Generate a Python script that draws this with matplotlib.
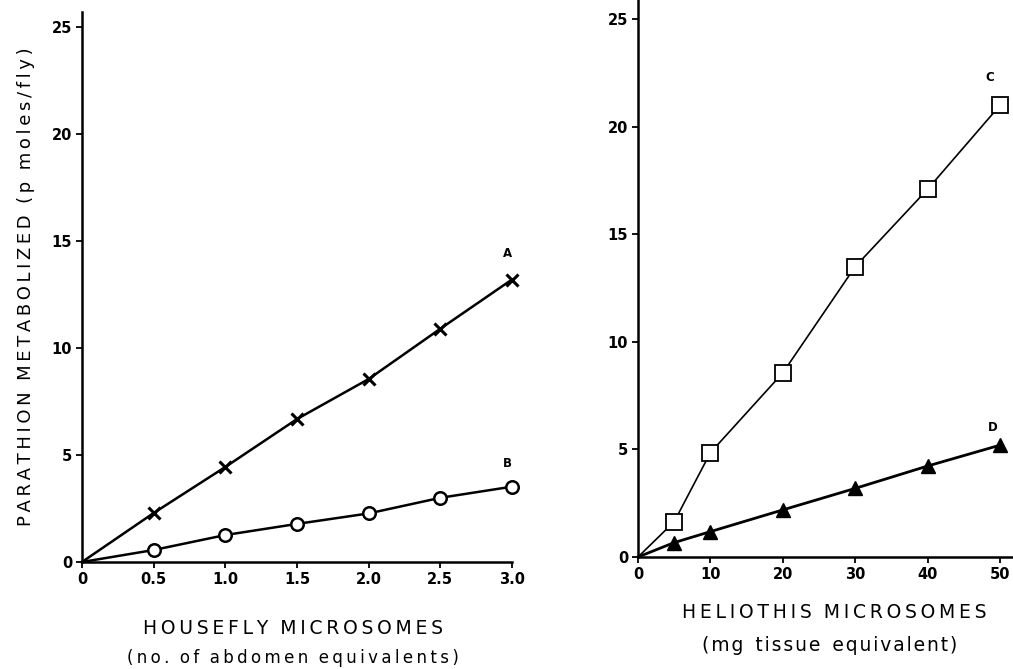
import numpy as np
import matplotlib.pyplot as plt

# housefly microsomes (no. of abdomen equivalents)
hf_x = [0, 0.5, 1.0, 1.5, 2.0, 2.5, 3.0]
hf_A = [0, 2.29, 4.44, 6.68, 8.55, 10.9, 13.2]
hf_B = [0, 0.56, 1.26, 1.78, 2.27, 3.0, 3.52]
hf_xticks = [0, 0.5, 1.0, 1.5, 2.0, 2.5, 3.0]
hf_xticklabels = ['0', '0.5', '1.0', '1.5', '2.0', '2.5', '3.0']

# heliothis microsomes (mg tissue equivalent)
he_x = [0, 5, 10, 20, 30, 40, 50]
he_C = [0, 1.64, 4.85, 8.56, 13.5, 17.1, 21.0]
he_D = [0, 0.67, 1.18, 2.19, 3.19, 4.23, 5.2]
he_xticks = [0, 10, 20, 30, 40, 50]

yticks = [0, 5, 10, 15, 20, 25]

W, H = 1013, 669
fig = plt.figure(figsize=(W / 100, H / 100), dpi=100)

tickfont = dict(fontsize=10.5, fontweight='bold')
THIN, HAIR = '\u2009', '\u200a'


def spaced(s, sp=THIN):
    # wide letter spacing inside words, wider gap between words
    return '  '.join(sp.join(w) for w in s.split(' '))


def style(ax):
    for s in ['top', 'right']:
        ax.spines[s].set_visible(False)
    for s in ['left', 'bottom']:
        ax.spines[s].set_linewidth(1.8)
    ax.tick_params(direction='out', length=4, width=1.3, pad=3)
    ax.set_yticks(yticks)
    ax.set_yticklabels([str(v) for v in yticks], **tickfont)


# left panel
ax1 = fig.add_axes([82 / W, 107 / H, 430 / W, 550 / H])
ax1.set_xlim(0, 3.0)
ax1.set_ylim(0, 25.7)
style(ax1)
ax1.plot(hf_x, hf_A, color='black', lw=1.8, marker='x', ms=9, mew=2.2,
         markevery=list(range(1, len(hf_x))), clip_on=False)
ax1.plot(hf_x, hf_B, color='black', lw=1.8, marker='o', ms=9, mew=1.8,
         mfc='white', markevery=list(range(1, len(hf_x))), clip_on=False)
ax1.set_xticks(hf_xticks)
ax1.set_xticklabels(hf_xticklabels, **tickfont)
ax1.text(2.97, 14.4, 'A', ha='center', va='center', fontsize=8.5, fontweight='bold')
ax1.text(2.97, 4.6, 'B', ha='center', va='center', fontsize=8.5, fontweight='bold')
ax1.set_ylabel(spaced('PARATHION METABOLIZED (p moles/fly)'), labelpad=12,
               fontsize=13)
ax1.text(0.49, -0.121, spaced('HOUSEFLY MICROSOMES'), transform=ax1.transAxes,
         ha='center', va='center', fontsize=13.5)
ax1.text(0.49, -0.174, spaced('(no. of abdomen equivalents)'), transform=ax1.transAxes,
         ha='center', va='center', fontsize=12)

# right panel
ax2 = fig.add_axes([638 / W, 112 / H, 375 / W, 557 / H])
ax2.set_xlim(0, 51.8)
ax2.set_ylim(0, 25.9)
style(ax2)
ax2.plot(he_x, he_C, color='black', lw=1.2, marker='s', ms=11, mew=1.3,
         mfc='white', markevery=list(range(1, len(he_x))), clip_on=False)
ax2.plot(he_x, he_D, color='black', lw=2.0, marker='^', ms=10,
         markevery=list(range(1, len(he_x))), clip_on=False)
ax2.set_xticks(he_xticks)
ax2.set_xticklabels([str(v) for v in he_xticks], **tickfont)
ax2.text(48.6, 22.3, 'C', ha='center', va='center', fontsize=8.5, fontweight='bold')
ax2.text(49.0, 6.0, 'D', ha='center', va='center', fontsize=8.5, fontweight='bold')
ax2.text(0.522, -0.1, spaced('HELIOTHIS MICROSOMES'), transform=ax2.transAxes,
         ha='center', va='center', fontsize=13.5)
ax2.text(0.51, -0.158, spaced('(mg tissue equivalent)', HAIR), transform=ax2.transAxes,
         ha='center', va='center', fontsize=13.5)

fig.savefig('out.png', dpi=100)
